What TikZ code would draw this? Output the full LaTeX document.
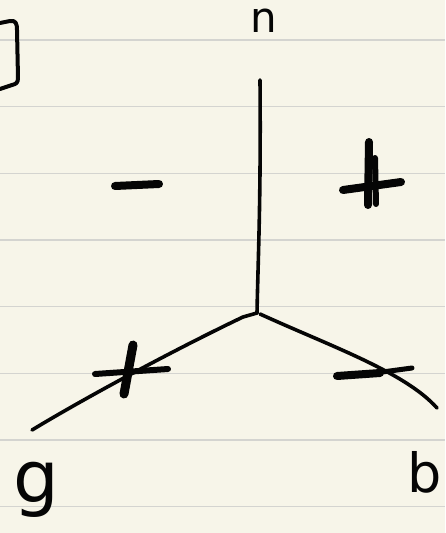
\documentclass[tikz,border=0pt]{standalone}
\usepackage{fontspec}
\setmainfont{DejaVu Sans}
\definecolor{paper}{RGB}{247,245,233}
\definecolor{rule}{RGB}{212,212,208}
\definecolor{ink}{RGB}{5,5,5}
\begin{document}
\begin{tikzpicture}[x=1pt,y=-1pt,
  pen/.style={draw=ink,line width=3.6pt,line cap=round,line join=round},
  thick pen/.style={draw=ink,line width=8pt,line cap=round,line join=round},
  ruled/.style={draw=rule,line width=1.6pt},
  lbl/.style={text=ink,inner sep=0pt,anchor=base}]
\fill[paper] (0,0) rectangle (445,533);
\useasboundingbox (0,0) rectangle (445,533);
% ruled lines
\foreach \y in {40,106.67,173.33,240,306.67,373.33,440,506.67}
  \draw[ruled] (0,\y) -- (445,\y);
% bracket at top left
\draw[pen,line width=4pt] (0,23) -- (10,21) .. controls (16,20) and (17,24) .. (17,30)
  -- (18,78) .. controls (18,83) and (16,84) .. (12,85) -- (0,89);
% labels
\node[lbl,font=\fontsize{42}{42}\selectfont] (n) at (264,32) {n};
\node[lbl,font=\fontsize{72}{72}\selectfont] (g) at (36,502) {g};
\node[lbl,font=\fontsize{54}{54}\selectfont] (b) at (425,492) {b};
% star
\coordinate (c) at (257,313);
\coordinate (top) at (260,80);
\coordinate (gl) at (32,430);
\coordinate (br) at (437,408);
\draw[pen] (top) .. controls (261,200) and (258,260) .. (c);
\draw[pen] (c) -- (243,317) .. controls (180,347) and (90,395) .. (gl);
\draw[pen] (260,314) .. controls (330,346) and (405,372) .. (br);
% plus on g line
\draw[thick pen,line width=6pt] (95,374) -- (168,369);
\draw[thick pen,line width=9pt] (133,345) -- (124,394);
% minus on b line
\draw[thick pen,line width=8pt] (337,376) -- (380,373);
\draw[thick pen,line width=5pt] (375,373) -- (412,368);
% minus upper left
\draw[thick pen] (115,186) -- (159,184);
% plus upper right
\draw[thick pen] (343,190) -- (401,182);
\draw[thick pen] (369,142) -- (368,205);
\draw[thick pen,line width=6pt] (375,158) -- (376,204);
\end{tikzpicture}
\end{document}
